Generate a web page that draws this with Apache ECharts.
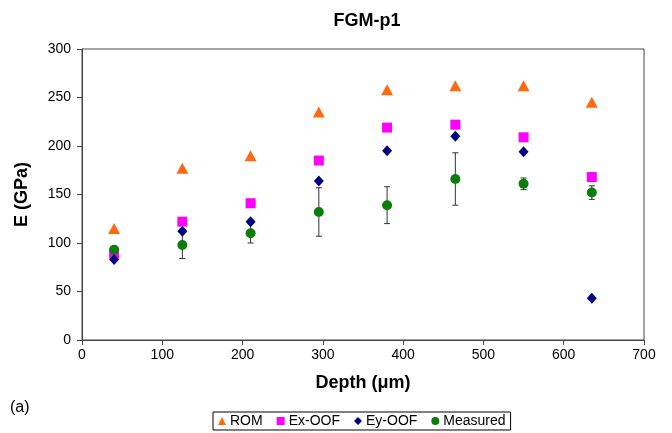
<!DOCTYPE html>
<html><head><meta charset="utf-8">
<script src="https://cdn.jsdelivr.net/npm/echarts@6/dist/echarts.min.js"></script>
<style>html,body{margin:0;padding:0;background:#fff}#c{width:672px;height:433px}</style>
</head><body><div id="c"></div>
<script>
var depth = [40, 125, 210, 295, 380, 465, 550, 635];
var rom = [115, 177, 190, 235, 258, 262, 262, 245];
var exOOF = [89, 122, 141, 185, 219, 222, 209, 168];
var eyOOF = [83, 112, 122, 164, 195, 210, 194, 43];
var measured = [93, 98, 110, 132, 139, 166, 161, 152];
var measuredErr = [0, 14, 10, 25, 19, 27, 6, 7];
var xTicks = [0, 100, 200, 300, 400, 500, 600, 700];
var yTicks = [0, 50, 100, 150, 200, 250, 300];

function pairs(v){ return depth.map(function(d,i){ return [d, v[i]]; }); }
var errData = depth.map(function(d,i){ return [d, measured[i]-measuredErr[i], measured[i]+measuredErr[i]]; });

var chart = echarts.init(document.getElementById('c'));
var font = 'Liberation Sans, Arial, sans-serif';
chart.setOption({
  animation:false,
  textStyle:{fontFamily:font},
  title:{text:'FGM-p1', left:362, top:7, textAlign:'center',
    textStyle:{fontSize:18, fontWeight:'bold', color:'#000', fontFamily:font}},
  grid:{left:82, right:28, top:49, bottom:93, show:true, borderColor:'#444', borderWidth:1},
  graphic:[{type:'text', left:10, top:400, style:{text:'(a)', font:'16px '+font, fill:'#000'}}],
  legend:{left:213, top:412, padding:[2,5,2,5], borderColor:'#000', borderWidth:1,
    itemWidth:8, itemHeight:8, itemGap:14,
    textStyle:{fontSize:14, color:'#000', fontFamily:font, padding:[0,0,0,-1]},
    data:[{name:'ROM', icon:'triangle'},{name:'Ex-OOF', icon:'rect'},{name:'Ey-OOF', icon:'diamond'},{name:'Measured', icon:'circle'}]},
  xAxis:{type:'value', min:xTicks[0], max:xTicks[xTicks.length-1], interval:100,
    name:'Depth (μm)', nameLocation:'middle', nameGap:34,
    nameTextStyle:{fontSize:18, fontWeight:'bold', color:'#000', fontFamily:font},
    axisLine:{lineStyle:{color:'#444'}}, axisTick:{show:true, length:5, lineStyle:{color:'#444'}},
    axisLabel:{fontSize:14, color:'#000', margin:8}, splitLine:{show:false}},
  yAxis:{type:'value', min:yTicks[0], max:yTicks[yTicks.length-1], interval:50,
    name:'E (GPa)', nameLocation:'middle', nameGap:51,
    nameTextStyle:{fontSize:18, fontWeight:'bold', color:'#000', fontFamily:font},
    axisLine:{show:true, lineStyle:{color:'#444'}}, axisTick:{show:true, length:5, lineStyle:{color:'#444'}},
    axisLabel:{fontSize:14, color:'#000', margin:11}, splitLine:{show:false}},
  series:[
    {name:'Measured-err', type:'custom', z:1, data:errData, silent:true,
      renderItem:function(params, api){
        var x = api.value(0);
        var lo = api.coord([x, api.value(1)]);
        var hi = api.coord([x, api.value(2)]);
        var w = 3;
        var st = {stroke:'#333', lineWidth:1};
        return {type:'group', children:[
          {type:'line', shape:{x1:lo[0], y1:lo[1], x2:hi[0], y2:hi[1]}, style:st},
          {type:'line', shape:{x1:lo[0]-w, y1:lo[1], x2:lo[0]+w, y2:lo[1]}, style:st},
          {type:'line', shape:{x1:hi[0]-w, y1:hi[1], x2:hi[0]+w, y2:hi[1]}, style:st}
        ]};
      }},
    {name:'ROM', type:'scatter', symbol:'triangle', symbolSize:[12,11], itemStyle:{color:'#FF6A10', opacity:1}, data:pairs(rom), z:3},
    {name:'Ex-OOF', type:'scatter', symbol:'rect', symbolSize:10, itemStyle:{color:'#FF00FF', opacity:1}, data:pairs(exOOF), z:3},
    {name:'Ey-OOF', type:'scatter', symbol:'diamond', symbolSize:[10,11], itemStyle:{color:'#000080', opacity:1}, data:pairs(eyOOF), z:4},
    {name:'Measured', type:'scatter', symbol:'circle', symbolSize:10, itemStyle:{color:'#0A7D0A', opacity:1}, data:pairs(measured), z:3}
  ]
});
</script></body></html>
